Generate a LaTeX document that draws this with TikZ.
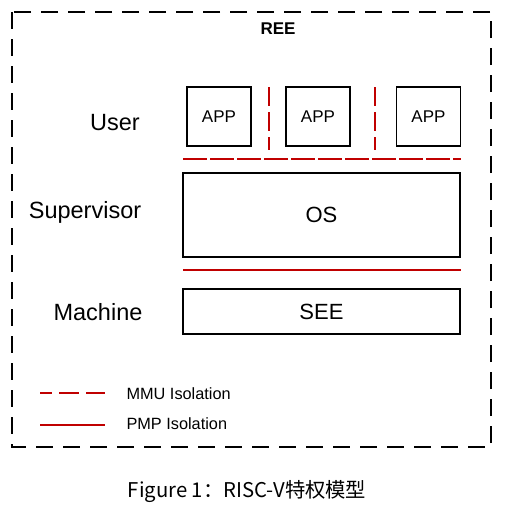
\documentclass[tikz,border=0pt]{standalone}
\usepackage{fontspec}
\setmainfont{Liberation Sans}
\newfontfamily\cjk{Noto Sans CJK SC}
\definecolor{isored}{RGB}{192,0,0}

\begin{document}
\begin{tikzpicture}[x=1pt,y=-1pt,
	appbox/.style={draw,line width=1.6pt,minimum width=64pt,minimum height=59pt,inner sep=0,font=\fontsize{17}{20}\selectfont},
	layerbox/.style={draw,line width=1.6pt,minimum width=277pt,inner sep=0,font=\fontsize{22}{26}\selectfont},
	level/.style={font=\fontsize{23.5}{27}\selectfont},
	mmuline/.style={draw=isored,line width=2pt,dash pattern=on 24pt off 3pt},
	mmuvline/.style={draw=isored,line width=2pt,dash pattern=on 19pt off 6pt},
	pmpline/.style={draw=isored,line width=2pt},
	legend/.style={anchor=west,font=\fontsize{16.3}{19}\selectfont}]
	\useasboundingbox (0,0) rectangle (504,514);
	\draw[line width=2pt,dash pattern=on 17pt off 10pt] (12,12) rectangle (491,447);
	\node[font=\bfseries\fontsize{17}{20}\selectfont] (ree) at (278,29) {REE};
	% levels
	\node[level] (user) at (115,123) {User};
	\node[level] (supervisor) at (85,212) {Supervisor};
	\node[level] (machine) at (98,312) {Machine};
	% user apps
	\node[appbox] (app1) at (219,116.5) {APP};
	\node[appbox] (app2) at (318,116.5) {APP};
	\node[appbox] (app3) at (428.5,116.5) {APP};
	\node[layerbox,minimum height=84pt] (os) at (321.5,215) {OS};
	\node[layerbox,minimum height=45pt] (see) at (321.5,311.5) {SEE};
	% isolation lines
	\coordinate (mmuA) at (269,87);
	\coordinate (mmuB) at (269,150);
	\coordinate (mmuC) at (375,87);
	\coordinate (mmuD) at (375,150);
	\coordinate (mmuL) at (183,159);
	\coordinate (mmuR) at (461,159);
	\coordinate (pmpL) at (183,270);
	\coordinate (pmpR) at (461,270);
	\draw[mmuvline] (mmuA) -- (mmuB);
	\draw[mmuvline] (mmuC) -- (mmuD);
	\draw[mmuline] (mmuL) -- (mmuR);
	\draw[pmpline] (pmpL) -- (pmpR);
	% legend
	\coordinate (keyA) at (40,393);
	\coordinate (keyB) at (105,393);
	\coordinate (keyC) at (40,425);
	\coordinate (keyD) at (105,425);
	\draw[pmpline,dash pattern=on 12pt off 7pt on 20pt off 7pt on 20pt off 7pt] (keyA) -- (keyB);
	\draw[pmpline] (keyC) -- (keyD);
	\node[legend] (mmutext) at (123,394) {MMU Isolation};
	\node[legend] (pmptext) at (123,424) {PMP Isolation};
	% caption
	\node[font=\cjk\fontsize{20.3}{24}\selectfont] (caption) at (247,491) {Figure 1：RISC-V特权模型};
\end{tikzpicture}
\end{document}
